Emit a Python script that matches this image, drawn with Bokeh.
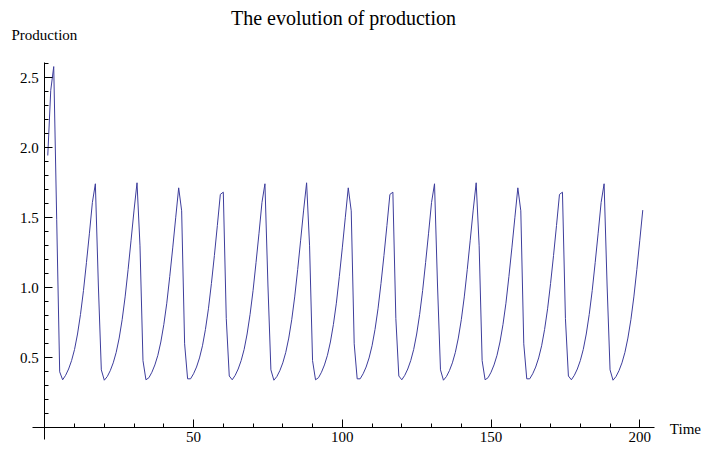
from bokeh.plotting import figure
from bokeh.models import FixedTicker, Label, PrintfTickFormatter
from bokeh.embed import file_html
from bokeh.resources import INLINE

# ---- data -------------------------------------------------------------
time = list(range(1, 202))

production = [
    1.945, 2.410, 2.580, 1.490, 0.400,
    # t = 6..19
    0.343, 0.375, 0.420, 0.480, 0.560, 0.670, 0.810, 0.980, 1.180, 1.390, 1.610, 1.743, 1.020, 0.414,
    # t = 20..34
    0.340, 0.366, 0.408, 0.464, 0.539, 0.641, 0.772, 0.935, 1.130, 1.340, 1.555, 1.750, 1.300, 0.480, 0.343,
    # t = 35..48
    0.358, 0.397, 0.449, 0.518, 0.613, 0.737, 0.890, 1.080, 1.285, 1.500, 1.714, 1.550, 0.600, 0.350,
    # t = 49..62
    0.350, 0.386, 0.434, 0.499, 0.586, 0.703, 0.850, 1.030, 1.230, 1.445, 1.667, 1.683, 0.780, 0.370,
    # t = 63..76
    0.343, 0.375, 0.420, 0.480, 0.560, 0.670, 0.810, 0.980, 1.180, 1.390, 1.610, 1.743, 1.020, 0.414,
    # t = 77..91
    0.340, 0.366, 0.408, 0.464, 0.539, 0.641, 0.772, 0.935, 1.130, 1.340, 1.555, 1.750, 1.300, 0.480, 0.343,
    # t = 92..105
    0.358, 0.397, 0.449, 0.518, 0.613, 0.737, 0.890, 1.080, 1.285, 1.500, 1.714, 1.550, 0.600, 0.350,
    # t = 106..119
    0.350, 0.386, 0.434, 0.499, 0.586, 0.703, 0.850, 1.030, 1.230, 1.445, 1.667, 1.683, 0.780, 0.370,
    # t = 120..133
    0.343, 0.375, 0.420, 0.480, 0.560, 0.670, 0.810, 0.980, 1.180, 1.390, 1.610, 1.743, 1.020, 0.414,
    # t = 134..148
    0.340, 0.366, 0.408, 0.464, 0.539, 0.641, 0.772, 0.935, 1.130, 1.340, 1.555, 1.750, 1.300, 0.480, 0.343,
    # t = 149..162
    0.358, 0.397, 0.449, 0.518, 0.613, 0.737, 0.890, 1.080, 1.285, 1.500, 1.714, 1.550, 0.600, 0.350,
    # t = 163..176
    0.350, 0.386, 0.434, 0.499, 0.586, 0.703, 0.850, 1.030, 1.230, 1.445, 1.667, 1.683, 0.780, 0.370,
    # t = 177..190
    0.343, 0.375, 0.420, 0.480, 0.560, 0.670, 0.810, 0.980, 1.180, 1.390, 1.610, 1.743, 1.020, 0.414,
    # t = 191..201
    0.340, 0.366, 0.408, 0.464, 0.539, 0.641, 0.772, 0.935, 1.130, 1.340, 1.555,
]

x_major_ticks = [50, 100, 150, 200]
x_minor_ticks = [10, 20, 30, 40, 60, 70, 80, 90, 110, 120, 130, 140, 160, 170, 180, 190]
y_major_ticks = [0.5, 1.0, 1.5, 2.0, 2.5]
y_minor_ticks = [0.1, 0.2, 0.3, 0.4, 0.6, 0.7, 0.8, 0.9, 1.1, 1.2, 1.3, 1.4, 1.6, 1.7, 1.8,
                 1.9, 2.1, 2.2, 2.3, 2.4, 2.6]

title_text = "The evolution of production"
y_label = "Production"
x_label = "Time"

FONT = "Liberation Serif"
LINE_COLOR = "#3d3d9c"

# ---- figure -----------------------------------------------------------
p = figure(width=703, height=450,
           x_range=(-14.89, 221.41), y_range=(-0.162, 3.052),
           output_backend="svg", toolbar_location=None,
           min_border=0, min_border_left=0, min_border_right=0,
           min_border_top=0, min_border_bottom=0)

p.outline_line_color = None
p.xgrid.visible = False
p.ygrid.visible = False
p.background_fill_color = "white"
p.border_fill_color = "white"

p.line(time, production, line_color=LINE_COLOR, line_width=1.0)

# axes through the origin
for ax in (p.xaxis[0], p.yaxis[0]):
    ax.fixed_location = 0
    ax.axis_line_color = "black"
    ax.axis_line_width = 1
    ax.major_tick_line_color = "black"
    ax.minor_tick_line_color = "black"
    ax.major_tick_in = 8
    ax.major_tick_out = 0
    ax.minor_tick_in = 4
    ax.minor_tick_out = 0
    ax.major_label_text_font = FONT
    ax.major_label_text_font_size = "15px"
    ax.major_label_text_color = "black"
    ax.axis_label = None

p.xaxis[0].ticker = FixedTicker(ticks=x_major_ticks, minor_ticks=x_minor_ticks)
p.xaxis[0].formatter = PrintfTickFormatter(format="%d")
p.xaxis[0].bounds = (-4, 205)
p.xaxis[0].major_label_standoff = 4

p.yaxis[0].ticker = FixedTicker(ticks=y_major_ticks, minor_ticks=y_minor_ticks)
p.yaxis[0].formatter = PrintfTickFormatter(format="%.1f")
p.yaxis[0].bounds = (-0.08, 2.61)
p.yaxis[0].major_label_standoff = 6

# texts
p.add_layout(Label(x=100.4, y=2.924, text=title_text, text_align="center",
                   text_baseline="middle", text_font=FONT,
                   text_font_size="20px", text_color="black"))
p.add_layout(Label(x=-11.19, y=2.804, text=y_label, text_align="left",
                   text_baseline="middle", text_font=FONT,
                   text_font_size="15px", text_color="black"))
p.add_layout(Label(x=210.1, y=-0.005, text=x_label, text_align="left",
                   text_baseline="middle", text_font=FONT,
                   text_font_size="15px", text_color="black"))

open("out.html", "w").write(file_html(p, INLINE))
